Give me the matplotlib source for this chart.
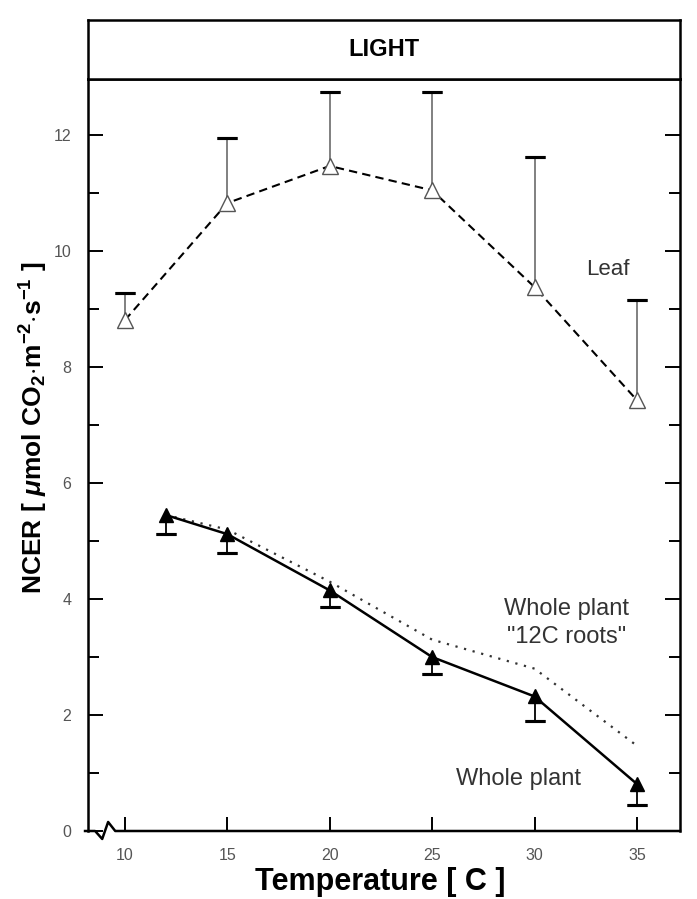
import matplotlib
matplotlib.use("Agg")
import matplotlib.pyplot as plt
from matplotlib.ticker import MultipleLocator
from matplotlib.lines import Line2D

plt.rcParams['font.family'] = ['Liberation Sans', 'DejaVu Sans']
plt.rcParams['mathtext.fontset'] = 'custom'
plt.rcParams['mathtext.rm'] = 'Liberation Sans:bold'
plt.rcParams['mathtext.bf'] = 'Liberation Sans:bold'
plt.rcParams['mathtext.it'] = 'Liberation Sans:italic:bold'
plt.rcParams['mathtext.default'] = 'bf'

# Data
leaf_x = [10, 15, 20, 25, 30, 35]
leaf_y = [8.81, 10.83, 11.47, 11.05, 9.38, 7.43]
leaf_err_up = [0.47, 1.12, 1.28, 1.70, 2.25, 1.73]

whole_x = [12, 15, 20, 25, 30, 35]
whole_y = [5.45, 5.12, 4.15, 3.0, 2.32, 0.81]
whole_err_dn = [0.33, 0.33, 0.28, 0.30, 0.42, 0.36]

roots_x = [12, 15, 20, 25, 30, 35]
roots_y = [5.45, 5.2, 4.3, 3.3, 2.8, 1.47]

x_ticks = [10, 15, 20, 25, 30, 35]
y_ticks = [0, 2, 4, 6, 8, 10, 12]

fig = plt.figure(figsize=(6.97, 8.99), dpi=100)
ax = fig.add_axes([88/697, 1-831/899, (680-88)/697, (831-79)/899])
hdr = fig.add_axes([88/697, 1-79/899, (680-88)/697, (79-20)/899])

# header
hdr.set_xticks([]); hdr.set_yticks([])
for s in hdr.spines.values():
    s.set_linewidth(1.8)
hdr.text(0.5, 0.5, 'LIGHT', ha='center', va='center', fontsize=17, fontweight='bold',
         transform=hdr.transAxes)

# Leaf
ax.errorbar(leaf_x, leaf_y, yerr=[[0]*6, leaf_err_up], fmt='none', ecolor='#808080',
            elinewidth=1.4, capsize=0, zorder=2)
ax.errorbar(leaf_x, [y+e for y, e in zip(leaf_y, leaf_err_up)], yerr=0, fmt='none',
            ecolor='black', capsize=7, capthick=2.2, elinewidth=0, zorder=2)
ax.plot(leaf_x, leaf_y, linestyle=(0, (4, 2.5)), color='black', lw=1.5, zorder=3)
ax.plot(leaf_x, leaf_y, linestyle='none', marker='^', ms=11, mfc='white', mec='#555555',
        mew=1.0, zorder=4)

# Roots dotted
ax.plot(roots_x, roots_y, linestyle=(0, (1, 3)), color='#333333', lw=1.6, zorder=2)

# Whole plant
ax.errorbar(whole_x, whole_y, yerr=[whole_err_dn, [0]*6], fmt='none', ecolor='black',
            elinewidth=1.3, capsize=0, zorder=2)
ax.errorbar(whole_x, [y-e for y, e in zip(whole_y, whole_err_dn)], yerr=0, fmt='none',
            ecolor='black', capsize=7, capthick=2.2, elinewidth=0, zorder=2)
ax.plot(whole_x, whole_y, '-', color='black', lw=1.8, zorder=3)
ax.plot(whole_x, whole_y, linestyle='none', marker='^', ms=10.5, mfc='black', mec='black',
        zorder=4)

ax.set_xlim(8.2, 37.1)
ax.set_ylim(0, 12.97)
ax.set_xticks(x_ticks)
ax.set_yticks(y_ticks)
ax.yaxis.set_minor_locator(MultipleLocator(1))
ax.tick_params(axis='x', direction='in', length=10, width=1.4, labelsize=11.5,
               labelcolor='#555555', pad=12, top=False)
ax.tick_params(axis='y', which='major', direction='in', length=11, width=1.4, labelsize=11.5,
               labelcolor='#555555', pad=12, right=True)
ax.tick_params(axis='y', which='minor', direction='in', length=8, width=1.4, right=True)

for s in ['left', 'right', 'top']:
    ax.spines[s].set_linewidth(1.8)
ax.spines['bottom'].set_visible(False)

# bottom axis line with break symbol
bx = [-0.005, 0.012, 0.024, 0.034, 0.046, 1.0]
by = [0, 0, -0.0106, 0.012, 0, 0]
ax.add_line(Line2D(bx, by, transform=ax.transAxes, color='black', lw=1.8, clip_on=False))

ax.text(33.56, 9.69, 'Leaf', fontsize=16, color='#333333', ha='center', va='center')
ax.text(31.56, 3.83, 'Whole plant', fontsize=17, color='#333333', ha='center', va='center')
ax.text(31.56, 3.34, '"12C roots"', fontsize=17, color='#333333', ha='center', va='center')
ax.text(29.22, 0.90, 'Whole plant', fontsize=17, color='#333333', ha='center', va='center')

ax.set_xlabel('Temperature [ C ]', fontsize=22, fontweight='bold')
ax.xaxis.set_label_coords(0.493, -0.048)
ax.set_ylabel(r'NCER [ $\mathit{\mu}$mol CO$_{2}$$\cdot$m$^{-2}$$\cdot$s$^{-1}$ ]', fontsize=19,
              fontweight='bold')
ax.yaxis.set_label_coords(-0.065, 0.536)

fig.savefig('out.png', dpi=100)
